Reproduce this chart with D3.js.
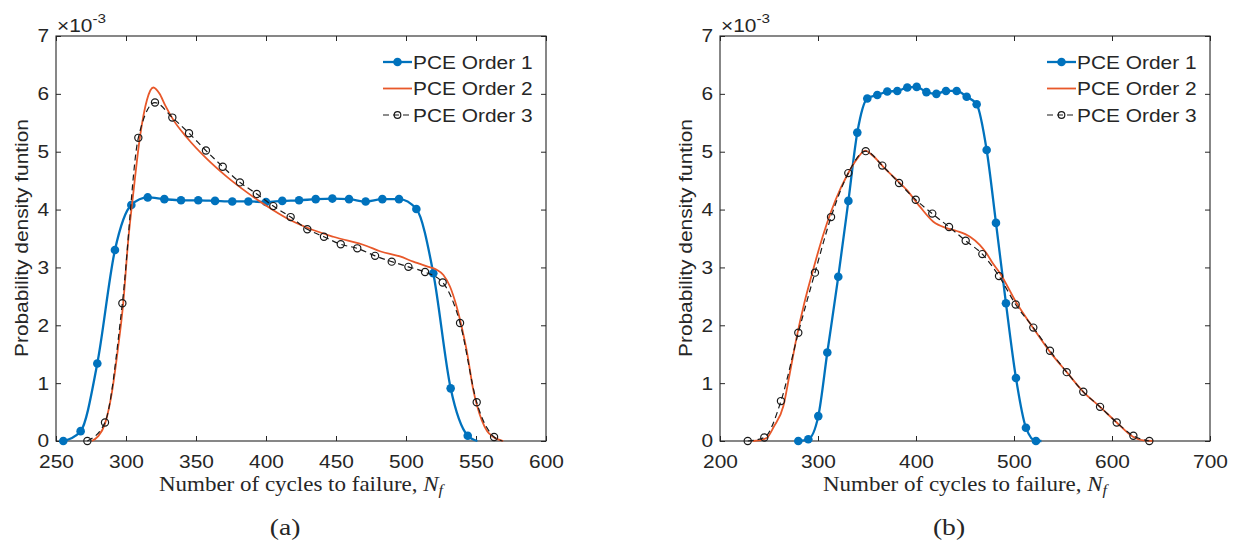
<!DOCTYPE html>
<html>
<head>
<meta charset="utf-8">
<script src="https://cdn.jsdelivr.net/npm/d3@7"></script>
<style>
body { margin: 0; background: #fff; }
text { font-family: "Liberation Sans", Arial, sans-serif; fill: #262626; }
</style>
</head>
<body>
<div id="chart"></div>
<script>
// all densities are in units of 1e-3 (the axis carries the x10^-3 factor)

// panel (a)
var a1x = [255.2, 267.6, 279.5, 292.1, 303.8, 315.5, 327.4, 339.3, 351.6, 363.6, 375.9, 387.4, 400.0, 411.6, 423.6, 435.5, 447.4, 459.3, 471.2, 483.1, 495.0, 507.4, 519.5, 531.9, 544.1, 551];
var a1y = [0, 0.17, 1.34, 3.30, 4.08, 4.21, 4.18, 4.16, 4.16, 4.15, 4.14, 4.14, 4.13, 4.15, 4.16, 4.18, 4.19, 4.18, 4.14, 4.18, 4.18, 4.01, 2.90, 0.91, 0.09, 0];

var a2x = [275.5, 280, 285, 290, 294, 298, 301.6, 305.2, 310, 315, 319.5, 324, 328, 333.8, 343.3, 357.6, 371.9, 387.4, 400.5, 414.8, 429.1, 448.1, 471.9, 481.4, 495.7, 505.2, 510, 516, 521.9, 526.7, 531.4, 536.2, 540, 543.3, 548.1, 554.1, 558, 562.4, 569.5];
var a2y = [0, 0.08, 0.3, 0.85, 1.55, 2.38, 3.47, 4.28, 5.26, 5.9, 6.11, 6.0, 5.8, 5.55, 5.25, 4.88, 4.57, 4.28, 4.06, 3.85, 3.69, 3.53, 3.37, 3.28, 3.19, 3.10, 3.06, 3.01, 2.96, 2.87, 2.67, 2.32, 1.95, 1.57, 0.88, 0.36, 0.17, 0.07, 0];

var a3x = [272.4, 285.0, 297.4, 308.8, 320.7, 333.1, 345.0, 357.1, 369.1, 381.4, 393.4, 405.2, 417.6, 429.5, 441.4, 453.4, 465.2, 477.9, 489.8, 501.7, 513.6, 526.2, 538.6, 550.5, 562.9, 569];
var a3y = [0, 0.32, 2.38, 5.24, 5.85, 5.59, 5.32, 5.02, 4.74, 4.47, 4.27, 4.06, 3.87, 3.66, 3.53, 3.40, 3.33, 3.20, 3.10, 3.01, 2.92, 2.74, 2.04, 0.67, 0.07, 0];

// panel (b)
var b1x = [279.9, 290.1, 300.3, 309.5, 320.7, 331.0, 340.1, 350.3, 360.5, 370.7, 380.9, 391.1, 400.7, 410.6, 420.8, 430.6, 441.5, 451.7, 461.9, 472.1, 481.6, 491.8, 502.0, 512.2, 522.4, 528];
var b1y = [0, 0.03, 0.43, 1.53, 2.84, 4.15, 5.33, 5.92, 5.98, 6.04, 6.05, 6.11, 6.12, 6.03, 6.00, 6.05, 6.05, 5.95, 5.82, 5.03, 3.77, 2.38, 1.09, 0.23, 0, 0];

var b2x = [233.5, 240, 247.6, 255, 264.6, 271, 278.3, 286, 294.6, 301, 308.9, 318, 329.3, 340, 348, 356, 366.6, 378, 390.5, 404, 417.7, 431.3, 441.5, 455.1, 465, 472.1, 478, 485.7, 502.8, 519.7, 536.7, 553.8, 570.7, 587.8, 604.8, 621.8, 632, 642];
var b2y = [0, 0.01, 0.05, 0.25, 0.6, 1.15, 1.8, 2.38, 2.93, 3.32, 3.75, 4.17, 4.58, 4.88, 5.02, 4.93, 4.74, 4.55, 4.34, 4.05, 3.79, 3.68, 3.63, 3.53, 3.39, 3.24, 3.08, 2.90, 2.38, 1.95, 1.54, 1.19, 0.85, 0.59, 0.32, 0.07, 0.01, 0];

var b3x = [228.3, 245.2, 262.2, 279.9, 296.9, 313.3, 330.9, 348.7, 365.6, 382.7, 399.7, 416.6, 433.7, 450.7, 467.7, 484.7, 501.7, 519.7, 536.7, 553.8, 570.7, 587.8, 604.8, 621.8, 638.1];
var b3y = [0, 0.06, 0.69, 1.87, 2.91, 3.87, 4.63, 5.01, 4.76, 4.46, 4.17, 3.93, 3.70, 3.46, 3.23, 2.85, 2.36, 1.96, 1.56, 1.19, 0.85, 0.59, 0.32, 0.09, 0];

var legendLabels = ["PCE Order 1", "PCE Order 2", "PCE Order 3"];
var xTicksA = [250, 300, 350, 400, 450, 500, 550, 600];
var xTicksB = [200, 300, 400, 500, 600, 700];
var yTicks = [0, 1, 2, 3, 4, 5, 6, 7];

var blue = "#0072BD", orange = "#E8582A", dark = "#262626";
var sx = "scale(1.13,1)";

var svg = d3.select("#chart").append("svg")
    .attr("width", 1237)
    .attr("height", 551);
svg.append("rect").attr("width", 1237).attr("height", 551).attr("fill", "#fff");

var y = d3.scaleLinear().domain([0, 7]).range([441, 36]);

function zip(xs, ys) {
  return xs.map(function (v, i) { return [v, ys[i]]; });
}

function panel(left, xDomain, xTicks, s1, s2, s3, tag) {
  var x = d3.scaleLinear().domain(xDomain).range([left, left + 490]);
  var g = svg.append("g");
  var fmt = d3.format("d");

  var bottom = g.append("g").attr("transform", "translate(0,441)")
      .call(d3.axisBottom(x).tickValues(xTicks).tickFormat(fmt).tickSizeInner(-5).tickSizeOuter(0).tickPadding(14));
  var top = g.append("g").attr("transform", "translate(0,36)")
      .call(d3.axisTop(x).tickValues(xTicks).tickSizeInner(-5).tickSizeOuter(0).tickFormat(""));
  var leftAx = g.append("g").attr("transform", "translate(" + left + ",0)")
      .call(d3.axisLeft(y).tickValues(yTicks).tickFormat(fmt).tickSizeInner(-5).tickSizeOuter(0).tickPadding(6));
  var rightAx = g.append("g").attr("transform", "translate(" + (left + 490) + ",0)")
      .call(d3.axisRight(y).tickValues(yTicks).tickSizeInner(-5).tickSizeOuter(0).tickFormat(""));

  [bottom, top, leftAx, rightAx].forEach(function (a) {
    a.select(".domain").remove();
    a.selectAll("line").attr("stroke", dark);
    a.selectAll("text")
      .attr("font-size", "18.5px")
      .attr("fill", dark)
      .attr("transform", sx);
  });

  g.append("rect")
    .attr("x", left).attr("y", 36)
    .attr("width", 490).attr("height", 405)
    .attr("fill", "none").attr("stroke", dark).attr("stroke-width", 1.1);

  // exponent
  var ex = g.append("text")
    .attr("transform", "translate(" + (left + 1) + ",32) " + sx)
    .attr("font-size", "18.5px");
  ex.append("tspan").text("\u00d710");
  ex.append("tspan").attr("dy", -9).attr("font-size", "13.5px").text("-3");

  // axis labels
  g.append("text")
    .attr("transform", "translate(" + (left - 28) + ",238) rotate(-90) " + sx)
    .attr("text-anchor", "middle")
    .attr("font-size", "18.5px")
    .text("Probability density funtion");

  var xl = g.append("text")
    .attr("transform", "translate(" + (left + 245) + ",491) scale(1.15,1)")
    .attr("text-anchor", "middle")
    .style("font-family", "'Liberation Serif', 'Times New Roman', serif")
    .attr("font-size", "20px");
  xl.append("tspan").text("Number of cycles to failure, ");
  xl.append("tspan").style("font-style", "italic").text("N");
  xl.append("tspan").style("font-style", "italic").attr("font-size", "14px").attr("dy", 4).text("f");

  g.append("text")
    .attr("transform", "translate(" + (left + 229) + ",535) scale(1.15,1)")
    .attr("text-anchor", "middle")
    .style("font-family", "'Liberation Serif', 'Times New Roman', serif")
    .attr("font-size", "24px")
    .text(tag);

  var line = d3.line()
    .x(function (d) { return x(d[0]); })
    .y(function (d) { return y(d[1]); })
    .curve(d3.curveMonotoneX);

  // order 1
  var p1 = zip(s1[0], s1[1]);
  g.append("path").attr("d", line(p1))
    .attr("fill", "none").attr("stroke", blue).attr("stroke-width", 2.3);
  g.selectAll(".m1").data(p1.slice(0, p1.length - 1)).enter().append("circle")
    .attr("class", "m1")
    .attr("cx", function (d) { return x(d[0]); })
    .attr("cy", function (d) { return y(d[1]); })
    .attr("r", 4.3)
    .attr("fill", blue);

  // order 2
  g.append("path").attr("d", line(zip(s2[0], s2[1])))
    .attr("fill", "none").attr("stroke", orange).attr("stroke-width", 1.8);

  // order 3
  var p3 = zip(s3[0], s3[1]);
  g.append("path").attr("d", line(p3))
    .attr("fill", "none").attr("stroke", "#1a1a1a").attr("stroke-width", 1.2)
    .attr("stroke-dasharray", "6,4");
  var m3 = s3[2] ? p3.slice(0, p3.length - 1) : p3;
  g.selectAll(".m3").data(m3).enter().append("circle")
    .attr("class", "m3")
    .attr("cx", function (d) { return x(d[0]); })
    .attr("cy", function (d) { return y(d[1]); })
    .attr("r", 3.6)
    .attr("fill", "none").attr("stroke", "#1a1a1a").attr("stroke-width", 1.2);

  // legend
  var lx = left + 327;
  var rows = [62, 88.5, 115];
  var lg = g.append("g");
  lg.append("line").attr("x1", lx).attr("x2", lx + 29).attr("y1", rows[0]).attr("y2", rows[0])
    .attr("stroke", blue).attr("stroke-width", 2.3);
  lg.append("circle").attr("cx", lx + 14.5).attr("cy", rows[0]).attr("r", 4.3).attr("fill", blue);
  lg.append("line").attr("x1", lx).attr("x2", lx + 29).attr("y1", rows[1]).attr("y2", rows[1])
    .attr("stroke", orange).attr("stroke-width", 1.8);
  lg.append("line").attr("x1", lx).attr("x2", lx + 29).attr("y1", rows[2]).attr("y2", rows[2])
    .attr("stroke", "#1a1a1a").attr("stroke-width", 1.2).attr("stroke-dasharray", "6,4");
  lg.append("circle").attr("cx", lx + 14.5).attr("cy", rows[2]).attr("r", 3.3)
    .attr("fill", "none").attr("stroke", "#1a1a1a").attr("stroke-width", 1.2);
  legendLabels.forEach(function (t, i) {
    lg.append("text")
      .attr("transform", "translate(" + (lx + 30) + "," + (rows[i] + 6.6) + ") " + sx)
      .attr("font-size", "18.5px")
      .text(t);
  });
}

panel(56, [250, 600], xTicksA, [a1x, a1y], [a2x, a2y], [a3x, a3y, true], "(a)");
panel(720, [200, 700], xTicksB, [b1x, b1y], [b2x, b2y], [b3x, b3y, false], "(b)");
</script>
</body>
</html>
